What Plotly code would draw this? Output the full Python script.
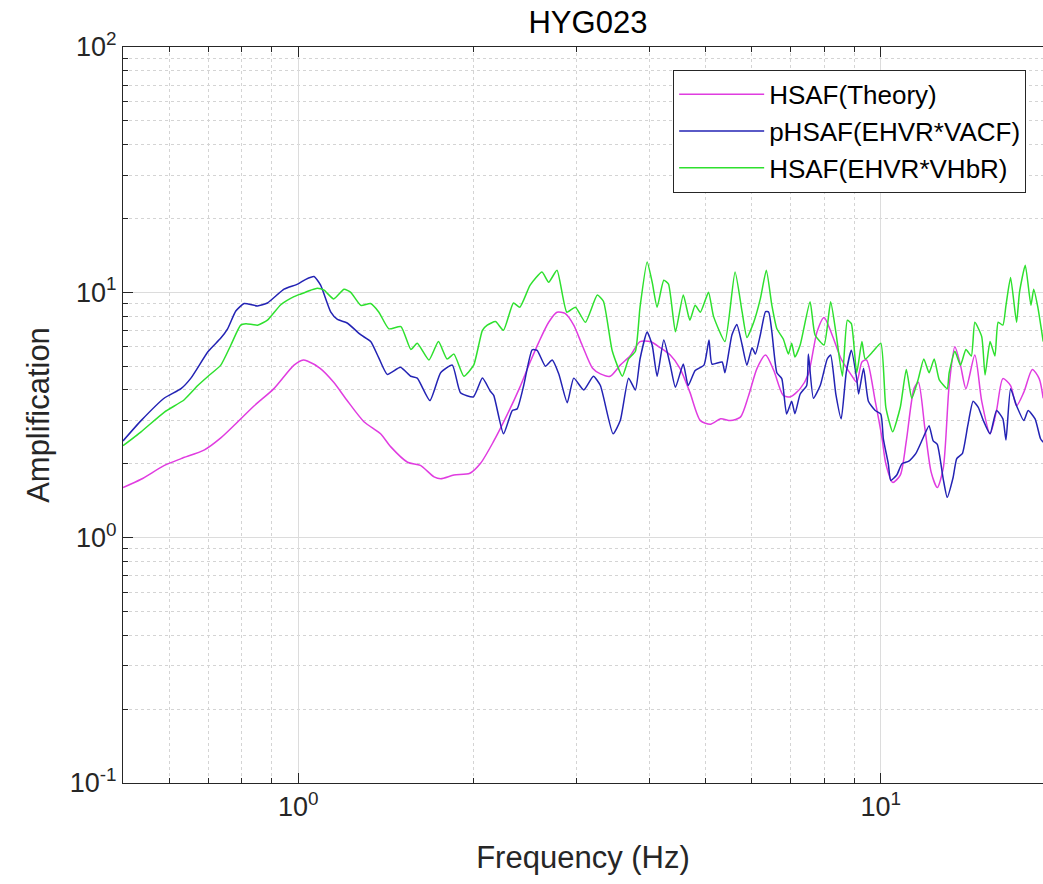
import numpy as np
import plotly.graph_objects as go

# ---- data ----
freq_theory = [0.50, 0.537, 0.589, 0.629, 0.69, 0.736, 0.776, 0.84, 0.908, 0.983, 1.02, 1.036, 1.09,
               1.15, 1.21, 1.296, 1.384, 1.44, 1.54, 1.62, 1.71, 1.756, 1.85, 1.97, 2.055, 2.16, 2.28,
               2.40, 2.50, 2.59, 2.69, 2.78, 2.87, 2.97, 3.07, 3.20, 3.30, 3.43, 3.57, 3.71, 3.86,
               4.02, 4.18, 4.35, 4.52, 4.70, 4.90, 5.10, 5.31, 5.52, 5.74, 5.93, 6.13, 6.34, 6.55,
               6.80, 7.00, 7.27, 7.51, 7.77, 7.99, 8.24, 8.55, 8.90, 9.09, 9.28, 9.45, 9.78, 10.05,
               10.2, 10.48, 10.8, 11.06, 11.4, 11.6, 11.9, 12.2, 12.5, 12.8, 13.1, 13.4, 13.7, 14.0,
               14.5, 14.9, 15.4, 15.8, 16.2, 16.7, 17.1, 17.6, 18.2, 18.7, 19.0]
amp_theory = [1.60, 1.73, 1.97, 2.10, 2.28, 2.55, 2.87, 3.45, 4.05, 5.05, 5.30, 5.25, 4.90,
              4.30, 3.65, 2.97, 2.65, 2.35, 2.03, 1.97, 1.77, 1.74, 1.80, 1.83, 2.01, 2.45, 3.15,
              4.10, 5.20, 6.30, 7.55, 8.30, 8.20, 7.35, 6.10, 4.90, 4.65, 4.55, 5.05, 5.50, 6.30,
              6.30, 5.95, 5.55, 4.90, 3.92, 3.00, 2.90, 3.05, 3.00, 3.10, 3.80, 4.90, 5.55, 4.80,
              3.80, 3.75, 4.05, 4.65, 6.90, 7.90, 6.75, 5.35, 4.60, 4.30, 5.20, 5.30, 3.60, 2.53,
              2.00, 1.68, 1.80, 2.48, 4.05, 4.30, 2.80, 1.85, 1.60, 1.92, 4.17, 6.00, 5.05, 4.05,
              5.55, 3.60, 2.65, 3.30, 4.45, 4.17, 3.45, 3.92, 4.85, 4.45, 3.70]

freq_vacf = [0.50, 0.537, 0.589, 0.629, 0.654, 0.70, 0.736, 0.756, 0.781, 0.807, 0.851, 0.885, 0.945,
             0.997, 1.03, 1.064, 1.092, 1.137, 1.167, 1.213, 1.279, 1.331, 1.375, 1.421, 1.497, 1.559,
             1.60, 1.682, 1.755, 1.838, 1.898, 1.998, 2.07, 2.136, 2.165, 2.25, 2.33, 2.375, 2.437,
             2.52, 2.57, 2.656, 2.728, 2.80, 2.895, 2.97, 3.09, 3.21, 3.30, 3.47, 3.57, 3.69, 3.79,
             3.86, 3.97, 4.05, 4.13, 4.24, 4.35, 4.44, 4.58, 4.67, 4.80, 4.97, 5.07, 5.13, 5.34,
             5.40, 5.55, 5.66, 5.78, 5.89, 6.01, 6.09, 6.21, 6.34, 6.42, 6.50, 6.63, 6.76, 6.89,
             7.03, 7.12, 7.27, 7.46, 7.51, 7.66, 7.87, 8.09, 8.20, 8.37, 8.55, 8.72, 8.90, 9.09,
             9.16, 9.34, 9.52, 9.78, 10.0, 10.1, 10.3, 10.4, 10.65, 10.87, 11.17, 11.48, 11.8, 12.1,
             12.3, 12.5, 12.8, 13.0, 13.3, 13.5, 13.8, 14.1, 14.4, 14.7, 15.0, 15.4, 15.8, 16.2,
             16.4, 16.7, 17.1, 17.6, 17.9, 18.4, 18.8, 19.0]
amp_vacf = [2.48, 3.00, 3.71, 4.05, 4.47, 5.74, 6.51, 7.10, 8.39, 9.00, 8.80, 9.05, 10.3,
            10.8, 11.3, 11.6, 10.7, 8.30, 7.75, 7.50, 6.72, 6.30, 5.39, 4.63, 4.95, 4.55,
            4.47, 3.62, 4.70, 5.05, 3.90, 3.75, 4.47, 3.95, 3.80, 2.65, 3.30, 3.35, 4.17,
            5.83, 5.80, 5.00, 5.30, 4.65, 3.55, 4.47, 4.00, 4.55, 4.17, 2.65, 3.00, 4.47, 4.00,
            5.35, 6.89, 6.10, 4.55, 6.40, 5.05, 4.10, 5.10, 4.17, 4.80, 5.05, 6.40, 5.10, 5.20,
            4.70, 6.70, 7.40, 6.10, 5.05, 5.95, 5.60, 6.70, 8.35, 8.30, 6.90, 4.70, 4.45, 3.19,
            3.60, 3.20, 3.85, 4.17, 5.60, 3.70, 4.17, 5.35, 5.55, 3.85, 3.05, 4.70, 5.80, 4.45,
            3.85, 4.90, 3.60, 3.30, 3.19, 2.53, 2.00, 1.71, 1.80, 2.00, 2.05, 2.20, 2.53, 2.86,
            2.48, 2.40, 1.73, 1.46, 1.75, 2.10, 2.20, 2.86, 3.60, 3.40, 3.00, 2.65, 3.30, 3.05,
            2.50, 4.05, 3.45, 3.00, 3.30, 3.05, 2.53, 2.45]

freq_vhbr = [0.50, 0.537, 0.589, 0.637, 0.672, 0.70, 0.736, 0.766, 0.796, 0.813, 0.851, 0.885, 0.933,
             0.983, 1.01, 1.05, 1.078, 1.107, 1.15, 1.198, 1.23, 1.28, 1.33, 1.375, 1.43, 1.50,
             1.56, 1.60, 1.676, 1.74, 1.80, 1.85, 1.924, 2.00, 2.07, 2.11, 2.18, 2.25, 2.34, 2.40,
             2.50, 2.62, 2.69, 2.78, 2.89, 2.99, 3.11, 3.26, 3.34, 3.46, 3.60, 3.69, 3.79, 3.86,
             3.97, 4.05, 4.13, 4.24, 4.32, 4.44, 4.58, 4.70, 4.80, 4.90, 5.06, 5.16, 5.40, 5.62,
             5.78, 5.89, 6.05, 6.21, 6.36, 6.50, 6.63, 6.80, 6.94, 7.03, 7.12, 7.27, 7.56, 7.71,
             7.99, 8.20, 8.37, 8.59, 8.76, 8.90, 9.09, 9.28, 9.40, 9.70, 10.0, 10.2, 10.48, 10.8,
             11.06, 11.3, 11.6, 11.85, 12.1, 12.35, 12.6, 13.0, 13.1, 13.4, 13.7, 14.0, 14.3, 14.5,
             14.9, 15.1, 15.4, 15.7, 15.9, 16.2, 16.4, 16.7, 17.1, 17.3, 17.7, 18.1, 18.3, 18.6,
             19.0]
amp_vhbr = [2.37, 2.70, 3.25, 3.65, 4.17, 4.55, 5.05, 6.10, 7.35, 7.45, 7.35, 7.70, 8.90,
            9.60, 9.85, 10.2, 10.4, 10.2, 9.40, 10.3, 10.0, 8.85, 9.00, 8.30, 7.10, 7.25,
            5.85, 6.20, 5.30, 6.30, 5.35, 5.60, 4.55, 5.05, 7.00, 7.35, 7.60, 7.00, 9.05, 8.70,
            10.7, 12.1, 11.0, 12.3, 8.30, 8.70, 7.55, 9.75, 9.20, 5.75, 4.55, 5.35, 5.75, 8.70,
            13.3, 11.0, 8.70, 11.2, 10.8, 6.90, 9.75, 7.70, 8.85, 8.30, 10.0, 8.00, 6.30, 12.1,
            8.30, 6.55, 7.55, 9.40, 12.3, 8.85, 7.10, 6.45, 5.60, 6.20, 5.45, 6.10, 9.15, 6.70,
            6.10, 9.15, 6.90, 4.55, 7.70, 7.45, 4.70, 6.30, 5.35, 5.75, 6.20, 3.40, 2.70, 3.40,
            4.85, 3.70, 4.45, 5.35, 4.70, 5.35, 4.40, 4.05, 4.70, 5.75, 5.05, 5.85, 5.50, 7.55,
            6.60, 4.60, 6.30, 5.50, 7.55, 7.35, 8.85, 11.5, 7.55, 10.0, 12.9, 8.85, 10.3, 8.70,
            6.30]

series_names = ["HSAF(Theory)", "pHSAF(EHVR*VACF)", "HSAF(EHVR*VHbR)"]
series_colors = ["#e03ce0", "#2323b4", "#2ee02e"]

x_tick_vals = [1, 10]
x_tick_text = ["10<sup>0</sup>", "10<sup>1</sup>"]
x_minor_vals = [0.5, 0.6, 0.7, 0.8, 0.9, 2, 3, 4, 5, 6, 7, 8, 9, 20]
y_tick_vals = [0.1, 1, 10, 100]
y_tick_text = ["10<sup>-1</sup>", "10<sup>0</sup>", "10<sup>1</sup>", "10<sup>2</sup>"]
y_minor_vals = [m * d for d in (0.1, 1, 10) for m in range(2, 10)]

FONT = "Liberation Sans, Arial, sans-serif"
AX = "#262626"

fig = go.Figure()
fig.add_trace(go.Scatter(x=freq_theory, y=amp_theory, mode="lines", name=series_names[0],
                         line=dict(color=series_colors[0], width=1.5, shape="spline", smoothing=0.7)))
fig.add_trace(go.Scatter(x=freq_vacf, y=amp_vacf, mode="lines", name=series_names[1],
                         line=dict(color=series_colors[1], width=1.5, shape="spline", smoothing=0.5)))
fig.add_trace(go.Scatter(x=freq_vhbr, y=amp_vhbr, mode="lines", name=series_names[2],
                         line=dict(color=series_colors[2], width=1.5, shape="spline", smoothing=0.5)))

fig.update_layout(
    width=1043, height=884,
    margin=dict(l=123, r=0, t=47, b=101),
    paper_bgcolor="white", plot_bgcolor="white",
    font=dict(family=FONT, color=AX, size=24),
    title=dict(text="HYG023", x=0.5637, xref="container", xanchor="center",
               y=1 - 22 / 884, yref="container", yanchor="middle",
               font=dict(size=31, color="#000000")),
    showlegend=True,
    legend=dict(x=0.598, y=0.969, xanchor="left", yanchor="top",
                bgcolor="white", bordercolor=AX, borderwidth=1,
                font=dict(size=26, color="#000000"), itemwidth=85,
                tracegroupgap=0),
)

fig.update_xaxes(
    type="log", range=[np.log10(0.5), 1.2784],
    tickmode="array", tickvals=x_tick_vals, ticktext=x_tick_text,
    ticks="inside", ticklen=10, tickcolor=AX, tickfont=dict(size=27, color=AX),
    showline=True, linecolor=AX, linewidth=1, mirror="ticks",
    showgrid=True, gridcolor="#dcdcdc", gridwidth=1,
    minor=dict(tickmode="array", tickvals=x_minor_vals, ticks="inside", ticklen=5,
               tickcolor=AX, showgrid=True, gridcolor="#d4d4d4", griddash="dot", gridwidth=1),
    title=dict(text="Frequency (Hz)", font=dict(size=31, color=AX), standoff=24),
    zeroline=False,
)
fig.update_yaxes(
    type="log", range=[-1, 2],
    tickmode="array", tickvals=y_tick_vals, ticktext=y_tick_text,
    ticks="inside", ticklen=10, tickcolor=AX, tickfont=dict(size=27, color=AX),
    showline=True, linecolor=AX, linewidth=1, mirror=False,
    showgrid=True, gridcolor="#dcdcdc", gridwidth=1,
    minor=dict(tickmode="array", tickvals=y_minor_vals, ticks="inside", ticklen=5,
               tickcolor=AX, showgrid=True, gridcolor="#d4d4d4", griddash="dot", gridwidth=1),
    title=dict(text="Amplification", font=dict(size=31, color=AX), standoff=10),
    zeroline=False,
)

fig.write_html("out.html")
